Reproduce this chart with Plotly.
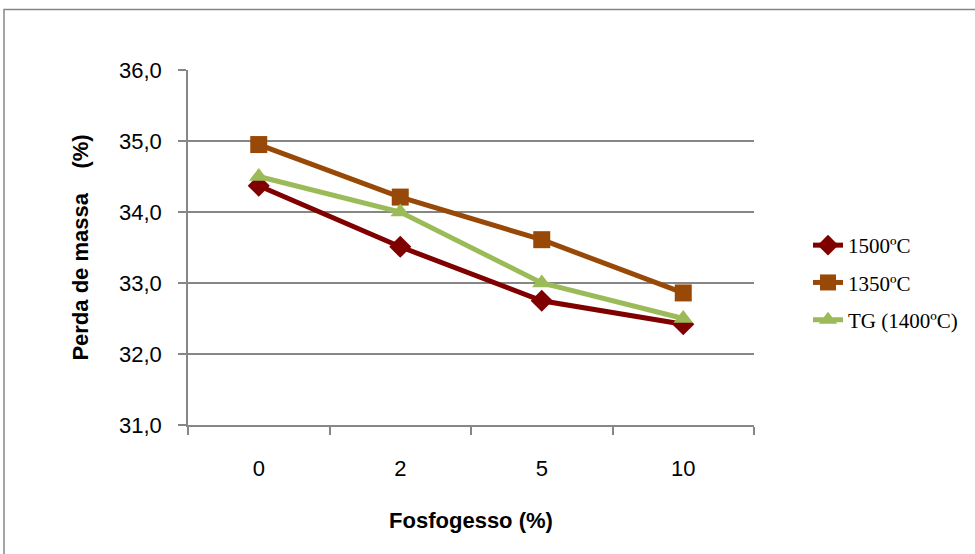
import plotly.graph_objects as go

categories = ["0", "2", "5", "10"]
s1500 = [34.37, 33.51, 32.75, 32.42]
s1350 = [34.95, 34.21, 33.61, 32.86]
stg = [34.50, 34.00, 33.00, 32.50]
y_ticks = [31, 32, 33, 34, 35, 36]
y_ticklabels = ["31,0", "32,0", "33,0", "34,0", "35,0", "36,0"]

fig = go.Figure()
fig.add_trace(go.Scatter(x=categories, y=s1500, name="1500ºC", mode="lines+markers",
                         line=dict(color="#800000", width=5),
                         marker=dict(symbol="diamond", size=17, color="#800000"),
                         legendgroup="a"))
fig.add_trace(go.Scatter(x=categories, y=s1350, name="1350ºC", mode="lines+markers",
                         line=dict(color="#984807", width=5),
                         marker=dict(symbol="square", size=17, color="#984807"),
                         legendgroup="b"))
fig.add_trace(go.Scatter(x=categories, y=stg, name="TG (1400ºC)", mode="lines+markers",
                         line=dict(color="#9BBB59", width=5),
                         marker=dict(symbol="triangle-up", size=17, color="#9BBB59"),
                         legendgroup="c"))

L, R, T, B = 188, 754, 70, 425
W, H = 975, 554
pw, ph = R - L, B - T

fig.update_layout(
    width=W, height=H,
    margin=dict(l=L, r=W - R, t=T, b=H - B),
    paper_bgcolor="white", plot_bgcolor="white",
    font=dict(family="Liberation Sans, Arial", size=22, color="#000000"),
    showlegend=True,
    legend=dict(x=(808 - L) / pw, y=1 - (225 - T) / ph, xanchor="left", yanchor="top",
                font=dict(family="Liberation Serif, Times New Roman", size=21, color="#000"),
                tracegroupgap=7, bgcolor="rgba(0,0,0,0)"),
    xaxis=dict(type="category", range=[-0.5, 3.5], tickson="boundaries", ticks="outside", ticklen=8,
               tickcolor="#868686", tickwidth=1.5, showline=True, linecolor="#868686",
               linewidth=1.5, showgrid=False, tickfont=dict(size=22),
               ticklabelstandoff=23,
               title=dict(text="<b>Fosfogesso (%)</b>", font=dict(size=22), standoff=32)),
    yaxis=dict(range=[31, 36], tickvals=y_ticks, ticktext=y_ticklabels,
               ticks="outside", ticklen=8, tickcolor="#868686", tickwidth=1.5,
               showline=True, linecolor="#868686", linewidth=1.5,
               showgrid=True, gridcolor="#868686", gridwidth=1.5,
               zeroline=False, tickfont=dict(size=22), ticklabelstandoff=12,
               title=dict(text="<b>Perda de massa\u00a0\u00a0\u00a0 (%)</b>", font=dict(size=22),
                          standoff=24)),
    shapes=[dict(type="rect", xref="paper", yref="paper",
                 x0=(4 - L) / pw, x1=(990 - L) / pw,
                 y0=1 + (T - 570) / ph, y1=1 + (T - 9.5) / ph,
                 line=dict(color="#868686", width=1.5), fillcolor="rgba(0,0,0,0)", layer="below")],
)

fig.write_html("out.html", config={"displayModeBar": False},
               post_script="document.body.style.margin='0';")
